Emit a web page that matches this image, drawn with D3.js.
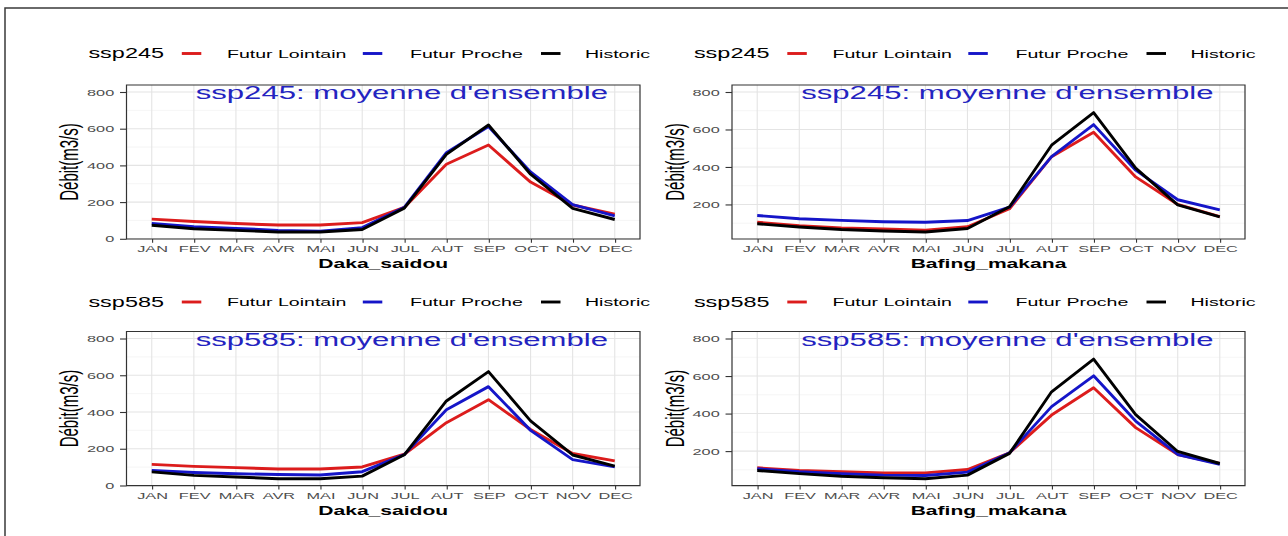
<!DOCTYPE html>
<html>
<head>
<meta charset="utf-8">
<script src="https://cdn.jsdelivr.net/npm/d3@7"></script>
<style>
  body { margin: 0; background: #fff; }
  svg { display: block; font-family: "Liberation Sans", Arial, sans-serif; }
  .grid line { vector-effect: non-scaling-stroke; }
  .axis line, .axis path { vector-effect: non-scaling-stroke; }
</style>
</head>
<body>
<svg id="chart" width="1288" height="536"></svg>
<script>
// values (m3/s)
const months = ["JAN", "FEV", "MAR", "AVR", "MAI", "JUN", "JUL", "AUT", "SEP", "OCT", "NOV", "DEC"];

const dakaHist = [74, 55, 46, 37, 37, 51, 167, 460, 620, 352, 166, 105];
const dakaFL245 = [107, 94, 83, 75, 75, 88, 171, 406, 511, 309, 184, 134];
const dakaFP245 = [83, 66, 57, 46, 42, 61, 171, 469, 612, 364, 186, 125];
const dakaFL585 = [115, 104, 97, 90, 90, 101, 170, 342, 467, 305, 174, 134];
const dakaFP585 = [82, 71, 64, 60, 57, 75, 168, 412, 538, 300, 141, 101];

const bafHist = [97, 80, 66, 58, 53, 72, 188, 516, 690, 394, 198, 134];
const bafFL245 = [105, 87, 74, 69, 63, 81, 177, 455, 585, 347, 200, 135];
const bafFP245 = [141, 124, 115, 108, 105, 114, 186, 455, 626, 383, 225, 171];
const bafFL585 = [111, 97, 90, 84, 84, 102, 191, 392, 538, 325, 182, 134];
const bafFP585 = [106, 90, 79, 72, 70, 88, 191, 437, 601, 360, 182, 129];

const seriesNames = ["Futur Lointain", "Futur Proche", "Historic"];
const seriesColors = ["#dc1c1c", "#1515c8", "#000000"];

// the picture was stretched sideways, so draw in a squeezed space and scale x
const S = 1.7;
const svg = d3.select("#chart");

svg.append("rect")
  .attr("x", 5).attr("y", 8)
  .attr("width", 1400).attr("height", 700)
  .attr("fill", "none").attr("stroke", "#3a3a3a").attr("stroke-width", 1.5);

const root = svg.append("g").attr("transform", `scale(${S},1)`);

const panels = [
  { scen: "ssp245", station: "Daka_saidou", data: [dakaFL245, dakaFP245, dakaHist], left: 126.5, right: 640, top: 85, bottom: 239, legY: 53.5 },
  { scen: "ssp245", station: "Bafing_makana", data: [bafFL245, bafFP245, bafHist], left: 732, right: 1245, top: 85, bottom: 239, legY: 53.5 },
  { scen: "ssp585", station: "Daka_saidou", data: [dakaFL585, dakaFP585, dakaHist], left: 126.5, right: 640, top: 331.5, bottom: 485.7, legY: 302 },
  { scen: "ssp585", station: "Bafing_makana", data: [bafFL585, bafFP585, bafHist], left: 732, right: 1245, top: 331.5, bottom: 485.7, legY: 302 },
];

const drawPanel = (p) => {
  const g = root.append("g");
  const x0 = p.left / S, x1 = p.right / S;

  const xScale = d3.scalePoint().domain(months).range([x0, x1]).padding(0.6);
  const lo = d3.min(p.data.flat());
  const span = 800 - lo;
  const yScale = d3.scaleLinear()
    .domain([lo - 0.05 * span, 800 + 0.05 * span])
    .range([p.bottom, p.top]);

  const majors = [0, 200, 400, 600, 800].filter((v) => v >= yScale.domain()[0]);
  const minors = [100, 300, 500, 700].filter((v) => v >= yScale.domain()[0]);

  //===== grid =====
  const grid = g.append("g").attr("class", "grid");
  grid.selectAll(".minor").data(minors).enter().append("line")
    .attr("x1", x0).attr("x2", x1)
    .attr("y1", (d) => yScale(d)).attr("y2", (d) => yScale(d))
    .attr("stroke", "#f0f0f0").attr("stroke-width", 0.7);
  grid.selectAll(".majY").data(majors).enter().append("line")
    .attr("x1", x0).attr("x2", x1)
    .attr("y1", (d) => yScale(d)).attr("y2", (d) => yScale(d))
    .attr("stroke", "#e4e4e4").attr("stroke-width", 1.1);
  grid.selectAll(".majX").data(months).enter().append("line")
    .attr("x1", (d) => xScale(d)).attr("x2", (d) => xScale(d))
    .attr("y1", p.top).attr("y2", p.bottom)
    .attr("stroke", "#e4e4e4").attr("stroke-width", 1.1);

  //===== lines =====
  const line = d3.line()
    .x((d, i) => xScale(months[i]))
    .y((d) => yScale(d));
  p.data.forEach((vals, k) => {
    g.append("path")
      .datum(vals)
      .attr("d", line)
      .attr("fill", "none")
      .attr("stroke", seriesColors[k])
      .attr("stroke-width", 2.9)
      .attr("stroke-linejoin", "round")
      .style("vector-effect", "non-scaling-stroke");
  });

  // annotation
  g.append("text")
    .attr("x", (p.left + 69.2) / S)
    .attr("y", yScale(800) + 7.5)
    .attr("font-size", 18.3)
    .attr("fill", "#2323c0")
    .text(p.scen + ": moyenne d'ensemble");

  // border
  g.append("rect")
    .attr("x", x0).attr("y", p.top)
    .attr("width", x1 - x0).attr("height", p.bottom - p.top)
    .attr("fill", "none").attr("stroke", "#333")
    .attr("stroke-width", 1.2)
    .style("vector-effect", "non-scaling-stroke");

  //===== axes =====
  const yAxisG = g.append("g").attr("class", "axis")
    .attr("transform", `translate(${x0},0)`)
    .call(d3.axisLeft(yScale).tickValues(majors).tickSize(3.8).tickPadding(3.4));
  const xAxisG = g.append("g").attr("class", "axis")
    .attr("transform", `translate(0,${p.bottom})`)
    .call(d3.axisBottom(xScale).tickSize(3.7).tickPadding(2.4));
  [yAxisG, xAxisG].forEach((a) => {
    a.select(".domain").remove();
    a.selectAll("line").attr("stroke", "#333").attr("stroke-width", 1.1);
    a.selectAll("text").attr("fill", "#4d4d4d").attr("font-size", 9.6)
      .attr("font-family", "Liberation Sans, Arial, sans-serif");
  });

  // axis titles
  g.append("text")
    .attr("x", (x0 + x1) / 2)
    .attr("y", p.bottom + 29)
    .attr("text-anchor", "middle")
    .attr("font-size", 12.4)
    .attr("font-weight", "bold")
    .text(p.station);
  g.append("text")
    .attr("transform", `translate(${(p.left - 57) / S},${(p.top + p.bottom) / 2}) rotate(-90)`)
    .attr("text-anchor", "middle")
    .attr("dy", "0.35em")
    .attr("font-size", 15)
    .text("Débit(m3/s)");

  //===== legend =====
  const lg = g.append("g");
  const off = p.left - 126.5;
  lg.append("text")
    .attr("x", (88.4 + off) / S).attr("y", p.legY)
    .attr("dy", "0.35em").attr("font-size", 13.8)
    .text(p.scen);
  const keyX = [181.8, 362.8, 541];
  const labX = [227, 410, 585];
  seriesNames.forEach((name, k) => {
    lg.append("line")
      .attr("x1", (keyX[k] + off) / S).attr("x2", (keyX[k] + 19.5 + off) / S)
      .attr("y1", p.legY).attr("y2", p.legY)
      .attr("stroke", seriesColors[k]).attr("stroke-width", 2.9)
      .style("vector-effect", "non-scaling-stroke");
    lg.append("text")
      .attr("x", (labX[k] + off) / S).attr("y", p.legY)
      .attr("dy", "0.35em").attr("font-size", 11.5)
      .text(name);
  });
};

panels.forEach(drawPanel);
</script>
</body>
</html>
